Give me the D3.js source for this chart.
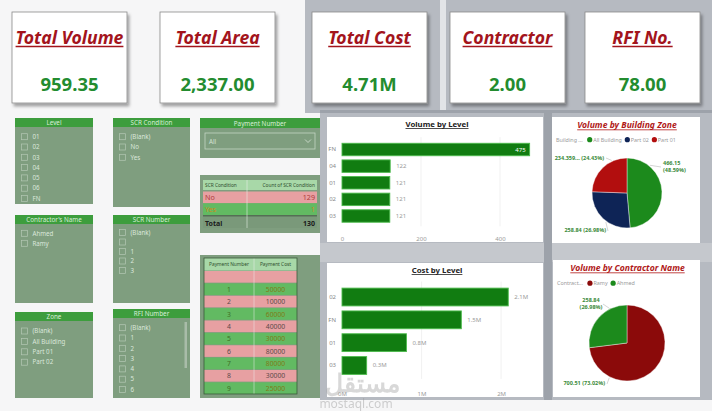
<!DOCTYPE html>
<html><head><meta charset="utf-8">
<script src="https://cdn.jsdelivr.net/npm/d3@7"></script>
<style>
html,body{margin:0;padding:0;background:#f6f6f7;}
svg{display:block;}
text{font-family:"Noto Sans","Open Sans",sans-serif;}
</style></head><body>
<svg id="c" width="712" height="411"></svg>
<script>
// ---------- DATA ----------
const kpiTitles = ["Total Volume","Total Area","Total Cost","Contractor","RFI No."];
const kpiValues = ["959.35","2,337.00","4.71M","2.00","78.00"];
const levelCats = ["FN","04","01","02","03"];
const levelVolumes = [475,122,121,121,121];
const volumeTicks = [0,200,400];
const costCats = ["02","FN","01","03"];
const costValues = [2090000,1500000,810000,310000];
const costTicks = [0,1000000,2000000];
const zoneNames = ["All Building","Part 02","Part 01"];
const zoneVolumes = [466.15,258.84,234.359];
const contractorNames = ["Ramy","Ahmed"];
const contractorVolumes = [700.51,258.84];
const levelItems = ["01","02","03","04","05","06","FN"];
const scrConditionItems = ["(Blank)","No","Yes"];
const contractorItems = ["Ahmed","Ramy"];
const scrNumberItems = ["(Blank)","","1","2","3"];
const zoneItems = ["(Blank)","All Building","Part 01","Part 02"];
const rfiItems = ["(Blank)","1","2","3","4","5","6"];
const scrConditions = ["No","Yes"];
const scrCounts = [129,1];
const paymentNumbers = ["","1","2","3","4","5","6","7","8","9"];
const paymentCosts = [null,50000,10000,60000,40000,30000,80000,80000,30000,25000];

// ---------- SETUP ----------
const svg = d3.select("#c");
const defs = svg.append("defs");
const flt = defs.append("filter").attr("id","sh").attr("x","-10%").attr("y","-10%").attr("width","130%").attr("height","130%");
flt.append("feDropShadow").attr("dx",2).attr("dy",3).attr("stdDeviation",1.8).attr("flood-color","#000").attr("flood-opacity",0.35);

const GREEN_PANEL = "#7f9e7f", GREEN_HEAD = "#3d9d3d", PINK = "#e7a0a2", ROWGREEN = "#62ba62", HEADMINT = "#a8d8a8";

// backgrounds
svg.append("rect").attr("width",712).attr("height",411).attr("fill","#f6f6f7");
svg.append("rect").attr("x",305).attr("y",0).attr("width",407).attr("height",113).attr("fill","#b6bac1");
svg.append("rect").attr("x",320).attr("y",110).attr("width",392).attr("height",290).attr("fill","#b6bac1");
svg.append("rect").attr("x",440).attr("y",0).attr("width",6).attr("height",110).attr("fill","#e2e4e7");
svg.append("rect").attr("x",320).attr("y",243).attr("width",392).attr("height",19).attr("fill","#c5c8cd");
svg.append("rect").attr("x",544).attr("y",110).attr("width",8).attr("height",290).attr("fill","#9da2aa");
svg.append("rect").attr("x",320).attr("y",110).attr("width",392).attr("height",3).attr("fill","#9da2aa");

// ---------- KPI CARDS ----------
const cardX = [12,160,312,450,585];
kpiTitles.forEach((t,i)=>{
  const g = svg.append("g").attr("transform",`translate(${cardX[i]},12)`);
  g.append("rect").attr("width",115).attr("height",91).attr("fill","#fff").attr("stroke","#8a8a8a").attr("stroke-width",0.8).attr("filter","url(#sh)");
  const tt = g.append("text").attr("x",57.5).attr("y",31.5).attr("text-anchor","middle")
    .attr("font-family","'Open Sans',sans-serif").attr("font-weight","bold").attr("font-style","italic")
    .attr("font-size",17.6).attr("fill","#a3141c").text(t);
  const w = tt.node().getComputedTextLength();
  g.append("line").attr("x1",57.5-w/2).attr("x2",57.5+w/2).attr("y1",34.5).attr("y2",34.5).attr("stroke","#a3141c").attr("stroke-width",1.4);
  g.append("text").attr("x",57.5).attr("y",78.5).attr("text-anchor","middle")
    .attr("font-family","Roboto,sans-serif").attr("font-weight","bold").attr("font-size",18.5)
    .attr("fill","#238c2f").text(kpiValues[i]);
});

// ---------- SLICERS ----------
function slicer(x,y,w,h,title,items,y0,step){
  const g = svg.append("g");
  g.append("rect").attr("x",x).attr("y",y).attr("width",w).attr("height",h).attr("fill",GREEN_PANEL);
  g.append("rect").attr("x",x).attr("y",y).attr("width",w).attr("height",9).attr("fill",GREEN_HEAD);
  g.append("text").attr("x",x+w/2).attr("y",y+7).attr("text-anchor","middle").attr("font-size",6.3).attr("fill","#d8eed8").text(title);
  items.forEach((it,i)=>{
    const cy = y0 + i*step;
    g.append("rect").attr("x",x+6.5).attr("y",cy-3).attr("width",6).attr("height",6).attr("fill","none").attr("stroke","#b4c8b4").attr("stroke-width",0.7);
    g.append("text").attr("x",x+17.5).attr("y",cy+2.2).attr("font-size",6.2).attr("fill","#dbe7db").text(it);
  });
  return g;
}
slicer(15,118,78,86,"Level",levelItems,136.7,10.3);
slicer(113,118,77,89,"SCR Condition",scrConditionItems,136.7,10.3);
slicer(15,215,78,88,"Contractor's Name",contractorItems,233.3,10);
slicer(113,215,77,88,"SCR Number",scrNumberItems,232.5,9.5);
slicer(15,312,78,86,"Zone",zoneItems,331,10.4);
const rg = slicer(113,309,77,89,"RFI Number",rfiItems,327.7,10.3);
rg.append("rect").attr("x",184.5).attr("y",322).attr("width",2.5).attr("height",46).attr("fill","#a9bca9");

// Payment Number dropdown slicer
svg.append("rect").attr("x",200).attr("y",118).attr("width",120).attr("height",40).attr("fill",GREEN_PANEL);
svg.append("rect").attr("x",200).attr("y",118).attr("width",120).attr("height",10).attr("fill",GREEN_HEAD);
svg.append("text").attr("x",260).attr("y",125.5).attr("text-anchor","middle").attr("font-size",6.3).attr("fill","#d8eed8").text("Payment Number");
svg.append("rect").attr("x",205).attr("y",133).attr("width",110).attr("height",16).attr("fill","none").attr("stroke","#c4d4c4").attr("stroke-width",0.8);
svg.append("text").attr("x",209).attr("y",143.5).attr("font-size",6.2).attr("fill","#d5e2d5").text("All");
svg.append("path").attr("d","M305,139.5 L308,142.5 L311,139.5").attr("fill","none").attr("stroke","#d5e2d5").attr("stroke-width",0.8);

// ---------- SCR TABLE ----------
svg.append("rect").attr("x",200).attr("y",175).attr("width",120).attr("height",58).attr("fill",GREEN_PANEL);
svg.append("rect").attr("x",203).attr("y",180).attr("width",114).attr("height",10).attr("fill",HEADMINT);
svg.append("text").attr("x",205).attr("y",187).attr("font-size",4.8).attr("fill","#2f4f2f").text("SCR Condition");
svg.append("text").attr("x",315).attr("y",187).attr("text-anchor","end").attr("font-size",4.8).attr("fill","#2f4f2f").text("Count of SCR Condition");
const scrY = d3.scaleBand().domain(scrConditions).range([191.5,215]);
const scrFill = [PINK, ROWGREEN], scrTxt = ["#b03c3c","#c98a1e"];
scrConditions.forEach((c,i)=>{
  svg.append("rect").attr("x",203).attr("y",scrY(c)).attr("width",114).attr("height",scrY.bandwidth()).attr("fill",scrFill[i]);
  svg.append("text").attr("x",205).attr("y",scrY(c)+8.5).attr("font-size",7.2).attr("fill",scrTxt[i]).text(c);
  svg.append("text").attr("x",315).attr("y",scrY(c)+8.5).attr("text-anchor","end").attr("font-size",7.2).attr("fill",scrTxt[i]).text(scrCounts[i]);
});
svg.append("line").attr("x1",203).attr("x2",317).attr("y1",216).attr("y2",216).attr("stroke","#2c3e2c").attr("stroke-width",1);
svg.append("rect").attr("x",203).attr("y",216.5).attr("width",114).attr("height",11.5).attr("fill","#7a997a");
svg.append("text").attr("x",205).attr("y",225.5).attr("font-size",7).attr("font-weight","bold").attr("fill","#1b1b1b").text("Total");
svg.append("text").attr("x",315).attr("y",225.5).attr("text-anchor","end").attr("font-size",7).attr("font-weight","bold").attr("fill","#1b1b1b").text(d3.sum(scrCounts));
svg.append("line").attr("x1",247).attr("x2",247).attr("y1",180).attr("y2",228).attr("stroke","#e6f0e6").attr("stroke-width",0.6);

// ---------- PAYMENT TABLE ----------
svg.append("rect").attr("x",200).attr("y",255).attr("width",120).attr("height",143).attr("fill",GREEN_PANEL);
svg.append("rect").attr("x",204).attr("y",258).attr("width",93).attr("height",12.5).attr("fill",HEADMINT);
svg.append("text").attr("x",229).attr("y",266).attr("text-anchor","middle").attr("font-size",4.8).attr("fill","#2f4f2f").text("Payment Number");
svg.append("text").attr("x",275.5).attr("y",266).attr("text-anchor","middle").attr("font-size",4.8).attr("fill","#2f4f2f").text("Payment Cost");
const payY = d3.scaleBand().domain(d3.range(paymentNumbers.length)).range([271,394]).paddingInner(0.06);
paymentNumbers.forEach((p,i)=>{
  const pink = i%2===0;
  svg.append("rect").attr("x",204).attr("y",payY(i)).attr("width",93).attr("height",payY.bandwidth()).attr("fill",pink?PINK:ROWGREEN);
  svg.append("text").attr("x",229).attr("y",payY(i)+8.5).attr("text-anchor","middle").attr("font-size",6.8).attr("fill",pink?"#5e4a4a":"#3f6f25").text(p);
  svg.append("text").attr("x",275.5).attr("y",payY(i)+8.5).attr("text-anchor","middle").attr("font-size",6.8).attr("fill",pink?"#5e4a4a":"#807a18").text(paymentCosts[i]===null?"":paymentCosts[i]);
});
svg.append("line").attr("x1",254).attr("x2",254).attr("y1",258).attr("y2",394).attr("stroke","#f0f0f0").attr("stroke-width",0.6).attr("opacity",0.8);
svg.append("rect").attr("x",204).attr("y",258).attr("width",93).attr("height",136).attr("fill","none").attr("stroke","#3a5a3a").attr("stroke-width",0.8);

// ---------- BAR CHARTS ----------
function barChart(box, title, cats, vals, xDomain, xRange, yRange, pad, ticks, tickFmt, labelFmt, axisY, insideLabel){
  const g = svg.append("g");
  g.append("rect").attr("x",box[0]).attr("y",box[1]).attr("width",box[2]).attr("height",box[3]).attr("fill","#fff");
  const cx = box[0]+box[2]/2+2;
  const tt = g.append("text").attr("x",cx).attr("y",box[1]+10).attr("text-anchor","middle").attr("font-size",7.8).attr("font-weight","bold").attr("fill","#222").text(title);
  const tw = tt.node().getComputedTextLength();
  g.append("line").attr("x1",cx-tw/2).attr("x2",cx+tw/2).attr("y1",box[1]+11.5).attr("y2",box[1]+11.5).attr("stroke","#222").attr("stroke-width",0.8);
  const x = d3.scaleLinear().domain(xDomain).range(xRange);
  const y = d3.scaleBand().domain(cats).range(yRange).paddingInner(pad).paddingOuter(pad/2);
  g.selectAll(".grid").data(ticks.slice(1)).join("line")
    .attr("x1",d=>x(d)).attr("x2",d=>x(d)).attr("y1",yRange[0]-4).attr("y2",yRange[1]+2)
    .attr("stroke","#eeeeee").attr("stroke-width",0.8);
  const ax = g.append("g").attr("transform",`translate(0,${axisY})`)
    .call(d3.axisBottom(x).tickValues(ticks).tickSize(0).tickFormat(tickFmt));
  ax.select(".domain").remove();
  ax.selectAll("text").attr("font-size",6).attr("fill","#9a9a9a").attr("font-family","'Noto Sans',sans-serif").attr("dy","0.3em");
  const ay = g.append("g").attr("transform",`translate(${xRange[0]-3},0)`).call(d3.axisLeft(y).tickSize(0));
  ay.select(".domain").remove();
  ay.selectAll("text").attr("font-size",6).attr("fill","#8a8a8a").attr("font-family","'Noto Sans',sans-serif");
  const maxV = d3.max(vals);
  cats.forEach((c,i)=>{
    g.append("rect").attr("x",x(0)).attr("y",y(c)).attr("width",x(vals[i])-x(0)).attr("height",y.bandwidth())
      .attr("fill","#117c11").attr("stroke","#4cba4c").attr("stroke-width",0.9);
    const inside = insideLabel && vals[i] > 0.85*maxV;
    g.append("text").attr("x", inside ? x(vals[i])-4 : x(vals[i])+6).attr("y",y(c)+y.bandwidth()/2+2)
      .attr("text-anchor", inside?"end":"start").attr("font-size",6).attr("fill", inside?"#ffffff":"#9a9a9a").text(labelFmt(vals[i]));
  });
}
barChart([327,117,216,125],"Volume by Level",levelCats,levelVolumes,[0,500],[342,539.5],[141.2,224.3],0.25,volumeTicks,d3.format("d"),d=>d,236,true);
barChart([327,263,216,134],"Cost by Level",costCats,costValues,[0,2200000],[342,517],[285.6,376.9],0.22,costTicks,d=>(d/1e6)+"M",d=>(d/1e6).toFixed(1)+"M",391,false);

// ---------- PIE CHARTS ----------
function pieChart(box, title, legendTitle, names, vals, colors, center, r, labelPos, legendY){
  const g = svg.append("g");
  g.append("rect").attr("x",box[0]).attr("y",box[1]).attr("width",box[2]).attr("height",box[3]).attr("fill","#fff");
  const cx = box[0]+box[2]/2+1;
  const tt = g.append("text").attr("x",cx).attr("y",box[1]+11).attr("text-anchor","middle").attr("font-size",8.6)
    .attr("font-weight","bold").attr("font-style","italic").attr("fill","#b01818").text(title);
  const tw = tt.node().getComputedTextLength();
  g.append("line").attr("x1",cx-tw/2).attr("x2",cx+tw/2).attr("y1",box[1]+12.8).attr("y2",box[1]+12.8).attr("stroke","#b01818").attr("stroke-width",0.8);
  let lx = box[0]+4;
  const lt = g.append("text").attr("x",lx).attr("y",legendY).attr("font-size",5.4).attr("fill","#9a9a9a").text(legendTitle);
  lx += lt.node().getComputedTextLength()+7;
  names.forEach((n,i)=>{
    g.append("circle").attr("cx",lx).attr("cy",legendY-1.8).attr("r",2.6).attr("fill",colors[i]);
    const t = g.append("text").attr("x",lx+3.5).attr("y",legendY).attr("font-size",5.4).attr("fill","#9a9a9a").text(n);
    lx += t.node().getComputedTextLength()+9;
  });
  const total = d3.sum(vals);
  const arcs = d3.pie().sort(null).value(d=>d)(vals);
  const arc = d3.arc().innerRadius(0).outerRadius(r);
  g.append("g").attr("transform",`translate(${center[0]},${center[1]})`)
    .selectAll("path").data(arcs).join("path").attr("d",arc).attr("fill",(d,i)=>colors[i]).attr("stroke","#fff").attr("stroke-width",0.4);
  arcs.forEach((a,i)=>{
    const lp = labelPos[i];
    const pct = "(" + (vals[i]/total*100).toFixed(2) + "%)";
    const valTxt = lp.trunc ? lp.trunc : d3.format(".2f")(vals[i]);
    const lines = lp.two ? [valTxt, pct] : [valTxt+" "+pct];
    lines.forEach((ln,k)=>{
      g.append("text").attr("x",lp.x).attr("y",lp.y+k*7).attr("text-anchor",lp.anchor).attr("font-size",5.5)
        .attr("font-weight","bold").attr("fill","#3a8a3a").text(ln);
    });
    const ang = lp.ang;
    const ex = center[0]+Math.sin(ang)*(r+1), ey = center[1]-Math.cos(ang)*(r+1);
    g.append("line").attr("x1",lp.lx).attr("y1",lp.ly).attr("x2",ex).attr("y2",ey).attr("stroke","#aaaaaa").attr("stroke-width",0.5);
  });
}
pieChart([552,117,148,126],"Volume by Building Zone","Building ...",zoneNames,zoneVolumes,["#1c8a1c","#0e2456","#b20e0e"],[627,193],35,
  [{x:663,y:165,anchor:"start",two:true,lx:661,ly:167,ang:Math.PI*0.22},
   {x:606,y:232,anchor:"end",two:false,lx:608,ly:231,ang:Math.PI*1.2},
   {x:604,y:160,anchor:"end",two:false,trunc:"234.359...",lx:606,ly:158,ang:Math.PI*1.86}],141.5);
pieChart([553,260,147,137],"Volume by Contractor Name","Contract...",contractorNames,contractorVolumes,["#8b0a0a","#1c8a1c"],[627,343],38,
  [{x:605,y:385,anchor:"end",two:false,lx:607,ly:384,ang:Math.PI*1.15},
   {x:591,y:301.5,anchor:"middle",two:true,lx:603,ly:304,ang:Math.PI*1.85}],285);

// ---------- WATERMARK ----------
svg.append("text").attr("x",362).attr("y",392).attr("text-anchor","middle").attr("font-family","'DejaVu Sans',sans-serif")
  .attr("font-size",25).attr("font-weight","bold").attr("fill","#9a9a9a").attr("opacity",0.38).text("مستقل");
svg.append("text").attr("x",356).attr("y",408).attr("text-anchor","middle").attr("font-family","'DejaVu Sans',sans-serif")
  .attr("font-size",12).attr("fill","#9a9a9a").attr("opacity",0.45).text("mostaql.com");
</script>
</body></html>
